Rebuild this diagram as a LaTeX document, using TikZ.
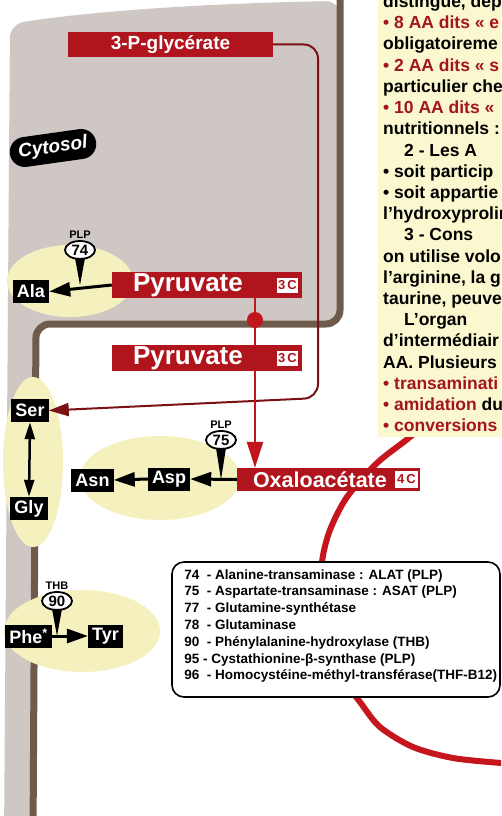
\documentclass[tikz,border=0pt]{standalone}
\usepackage{fontspec}
\setmainfont{Liberation Sans}
\usetikzlibrary{arrows.meta,calc,positioning,shapes.geometric}
\definecolor{rougeBoite}{HTML}{B0151D}
\definecolor{rougeVif}{HTML}{C0161E}
\definecolor{rougeSombre}{HTML}{7A1114}
\definecolor{rougeArc}{HTML}{C4161C}
\definecolor{rougeTexte}{HTML}{A3151F}
\definecolor{grisCyto}{HTML}{CEC7C3}
\definecolor{brunMembrane}{HTML}{6F5B4B}
\definecolor{jauneZone}{HTML}{F4F1BE}
\definecolor{jauneTexte}{HTML}{FBF8CF}
\newcommand{\taille}[1]{\fontsize{#1}{#1}\selectfont}

\begin{document}
\begin{tikzpicture}[x=1pt,y=-1pt,
  boite/.style={fill=rougeBoite,inner sep=0pt},
  boiteTexte/.style={text=white,font=\bfseries\taille{26},inner sep=0pt},
  tagC/.style={fill=white,text=rougeBoite,font=\bfseries\taille{13},minimum width=21pt,minimum height=15pt,inner sep=0pt},
  aa/.style={fill=black,text=white,font=\bfseries\taille{18},inner xsep=4pt,inner ysep=0pt,minimum height=23pt},
  enz/.style={ellipse,draw,line width=1.8pt,fill=white,minimum width=30pt,minimum height=18pt,inner sep=0pt,font=\bfseries\taille{15}},
  cofact/.style={font=\bfseries\taille{11},inner sep=1pt},
  fleche/.style={line width=3pt,-{Triangle[length=21pt,width=14pt]}},
  colonne/.style={anchor=base west,inner sep=0pt,font=\bfseries\taille{17.5}},
  rouge/.style={text=rougeTexte}]
\useasboundingbox (0,0) rectangle (501,816);
\clip (0,0) rectangle (501,816);
\fill[white] (0,0) rectangle (501,816);

% cytosol et membrane
\fill[grisCyto,rounded corners=14pt] (4,840) -- (10,24) .. controls (100,10) and (220,3) .. (340,1) -- (340,324) -- (36,324) -- (33,840) -- cycle;
\draw[brunMembrane,line width=7pt,rounded corners=14pt] (340,-10) -- (340,324) -- (36,324) -- (33,840);

% grand arc rouge
\draw[rougeArc,line width=6pt] plot[smooth] coordinates {(440,410) (410,437) (377,463) (347,497) (330,530) (322,562) (320,610) (330,660) (360,702) (380,727) (413,747) (453,758) (501,763) (520,764)};

% colonne de texte
\fill[jauneTexte] (378,-5) rectangle (510,437);
\node[colonne] (l1) at (383,7.6) {distingue, dép};
\node[colonne,rouge] (l2) at (383,28.8) {• 8 AA dits « e};
\node[colonne] (l3) at (383,50.0) {obligatoireme};
\node[colonne,rouge] (l4) at (383,71.2) {• 2 AA dits « s};
\node[colonne] (l5) at (383,92.4) {particulier che};
\node[colonne,rouge] (l6) at (383,113.6) {• 10 AA dits «};
\node[colonne] (l7) at (383,134.8) {nutritionnels :};
\node[colonne] (l8) at (404,156.0) {2 - Les A};
\node[colonne] (l9) at (383,177.2) {• soit particip};
\node[colonne] (l10) at (383,198.4) {• soit appartie};
\node[colonne] (l11) at (383,219.6) {l'hydroxyprolin};
\node[colonne] (l12) at (404,240.8) {3 - Cons};
\node[colonne] (l13) at (383,262.0) {on utilise volo};
\node[colonne] (l14) at (383,283.2) {l'arginine, la g};
\node[colonne] (l15) at (383,304.4) {taurine, peuve};
\node[colonne] (l16) at (404,325.6) {L'organ};
\node[colonne] (l17) at (383,346.8) {d'intermédiair};
\node[colonne] (l18) at (383,368.0) {AA. Plusieurs};
\node[colonne,rouge] (l19) at (383,389.2) {• transaminati};
\node[colonne] (l20) at (383,410.4) {\textcolor{rougeTexte}{• amidation} du};
\node[colonne,rouge] (l21) at (383,431.6) {• conversions};

% zones jaunes
\fill[jauneZone] (70,281) ellipse [x radius=63,y radius=36];
\fill[jauneZone] (33,462) ellipse [x radius=30,y radius=85];
\fill[jauneZone] (160,478) ellipse [x radius=80,y radius=42];
\fill[jauneZone] (82,631) ellipse [x radius=78,y radius=41];

% legende
\node[draw,line width=1.6pt,fill=white,rounded corners=12pt,minimum width=328pt,minimum height=135pt,inner sep=0pt] (legende) at (336,629.5) {};
\node[anchor=north west,align=left,inner sep=0pt,font=\bfseries\fontsize{13.5}{16.8}\selectfont] (legTxt) at ([xshift=13pt,yshift=-8pt]legende.north west)
  {74\ \ - Alanine-transaminase : ALAT (PLP)\\
   75\ \ - Aspartate-transaminase : ASAT (PLP)\\
   77\ \ - Glutamine-synthétase\\
   78\ \ - Glutaminase\\
   90\ \ - Phénylalanine-hydroxylase (THB)\\
   95 - Cystathionine-β-synthase (PLP)\\
   96\ \ - Homocystéine-méthyl-transférase(THF-B12)};

% boites rouges
\node[boite,text=white,font=\bfseries\taille{19},minimum width=205pt,minimum height=25pt] (glyc) at (170.5,44.5) {3-P-glycérate};
\node[boite,minimum width=190pt,minimum height=26pt] (pyrA) at (207,285) {};
\node[boiteTexte,right=21pt of pyrA.west] (pyrAtxt) {Pyruvate};
\node[tagC,left=4pt of pyrA.east] (pyrAc) {3\,C};
\node[boite,minimum width=190pt,minimum height=26pt] (pyrB) at (207,358) {};
\node[boiteTexte,right=21pt of pyrB.west] (pyrBtxt) {Pyruvate};
\node[tagC,left=4pt of pyrB.east] (pyrBc) {3\,C};
\node[boite,minimum width=183pt,minimum height=23pt] (oxa) at (328.5,479.5) {};
\node[boiteTexte,font=\bfseries\taille{21.5},right=16pt of oxa.west] (oxaTxt) {Oxaloacétate};
\node[tagC,minimum width=23pt,minimum height=17pt,left=2pt of oxa.east] (oxaC) {4\,C};
\node[circle,fill=rougeVif,minimum size=16pt,inner sep=0pt] (porteur) at (255,320) {};

% acides amines
\node[aa] (ala) at (31,291.5) {Ala};
\node[aa] (ser) at (30,410.5) {Ser};
\node[aa] (gly) at (29,508.5) {Gly};
\node[aa] (asn) at (92.5,480) {Asn};
\node[aa] (asp) at (169,479) {Asp};
\node[aa] (phe) at (28.5,636) {Phe\textsuperscript{*}};
\node[aa] (tyr) at (105.5,636) {Tyr};

\node[fill=black,text=white,rounded corners=15pt,minimum width=87pt,minimum height=30pt,rotate=8,font=\bfseries\itshape\taille{19}] (cytosol) at (53,148) {Cytosol};

% enzymes
\node[enz] (e74) at (80,250) {74};
\node[cofact,above=0pt of e74] (plp74) {PLP};
\node[enz] (e75) at (221,440) {75};
\node[cofact,above=0pt of e75] (plp75) {PLP};
\node[enz] (e90) at (57,601) {90};
\node[cofact,above=0pt of e90] (thb90) {THB};

% fleches
\draw[rougeSombre,line width=2pt,rounded corners=14pt,-{Triangle[length=20pt,width=13pt]}] (glyc.east) -| (318,398) -- (ser.east);
\draw[rougeVif,line width=2.5pt] (pyrA.south -| porteur) -- (porteur) -- (pyrB.north -| porteur);
\draw[rougeVif,line width=2.5pt,-{Triangle[length=26pt,width=16pt]}] (pyrB.south -| porteur) -- (oxa.north -| porteur);
\draw[fleche] (pyrA.west) -- (ala.east);
\draw[fleche] (oxa.west) -- (asp.east);
\draw[fleche] (asp.west) -- (asn.east);
\draw[fleche] (phe.east) -- (tyr.west);
\draw[fleche,line width=2.5pt,{Triangle[length=17pt,width=10pt]}-{Triangle[length=17pt,width=10pt]}] (ser.south) -- (gly.north);
\fill ([xshift=-5pt,yshift=2pt]e74.south) -- (e74 |- pyrA) -- ([xshift=5pt,yshift=2pt]e74.south) -- cycle;
\fill ([xshift=-5pt,yshift=2pt]e75.south) -- (e75 |- oxa) -- ([xshift=5pt,yshift=2pt]e75.south) -- cycle;
\fill ([xshift=-5pt,yshift=2pt]e90.south) -- (e90 |- phe) -- ([xshift=5pt,yshift=2pt]e90.south) -- cycle;
\end{tikzpicture}
\end{document}
